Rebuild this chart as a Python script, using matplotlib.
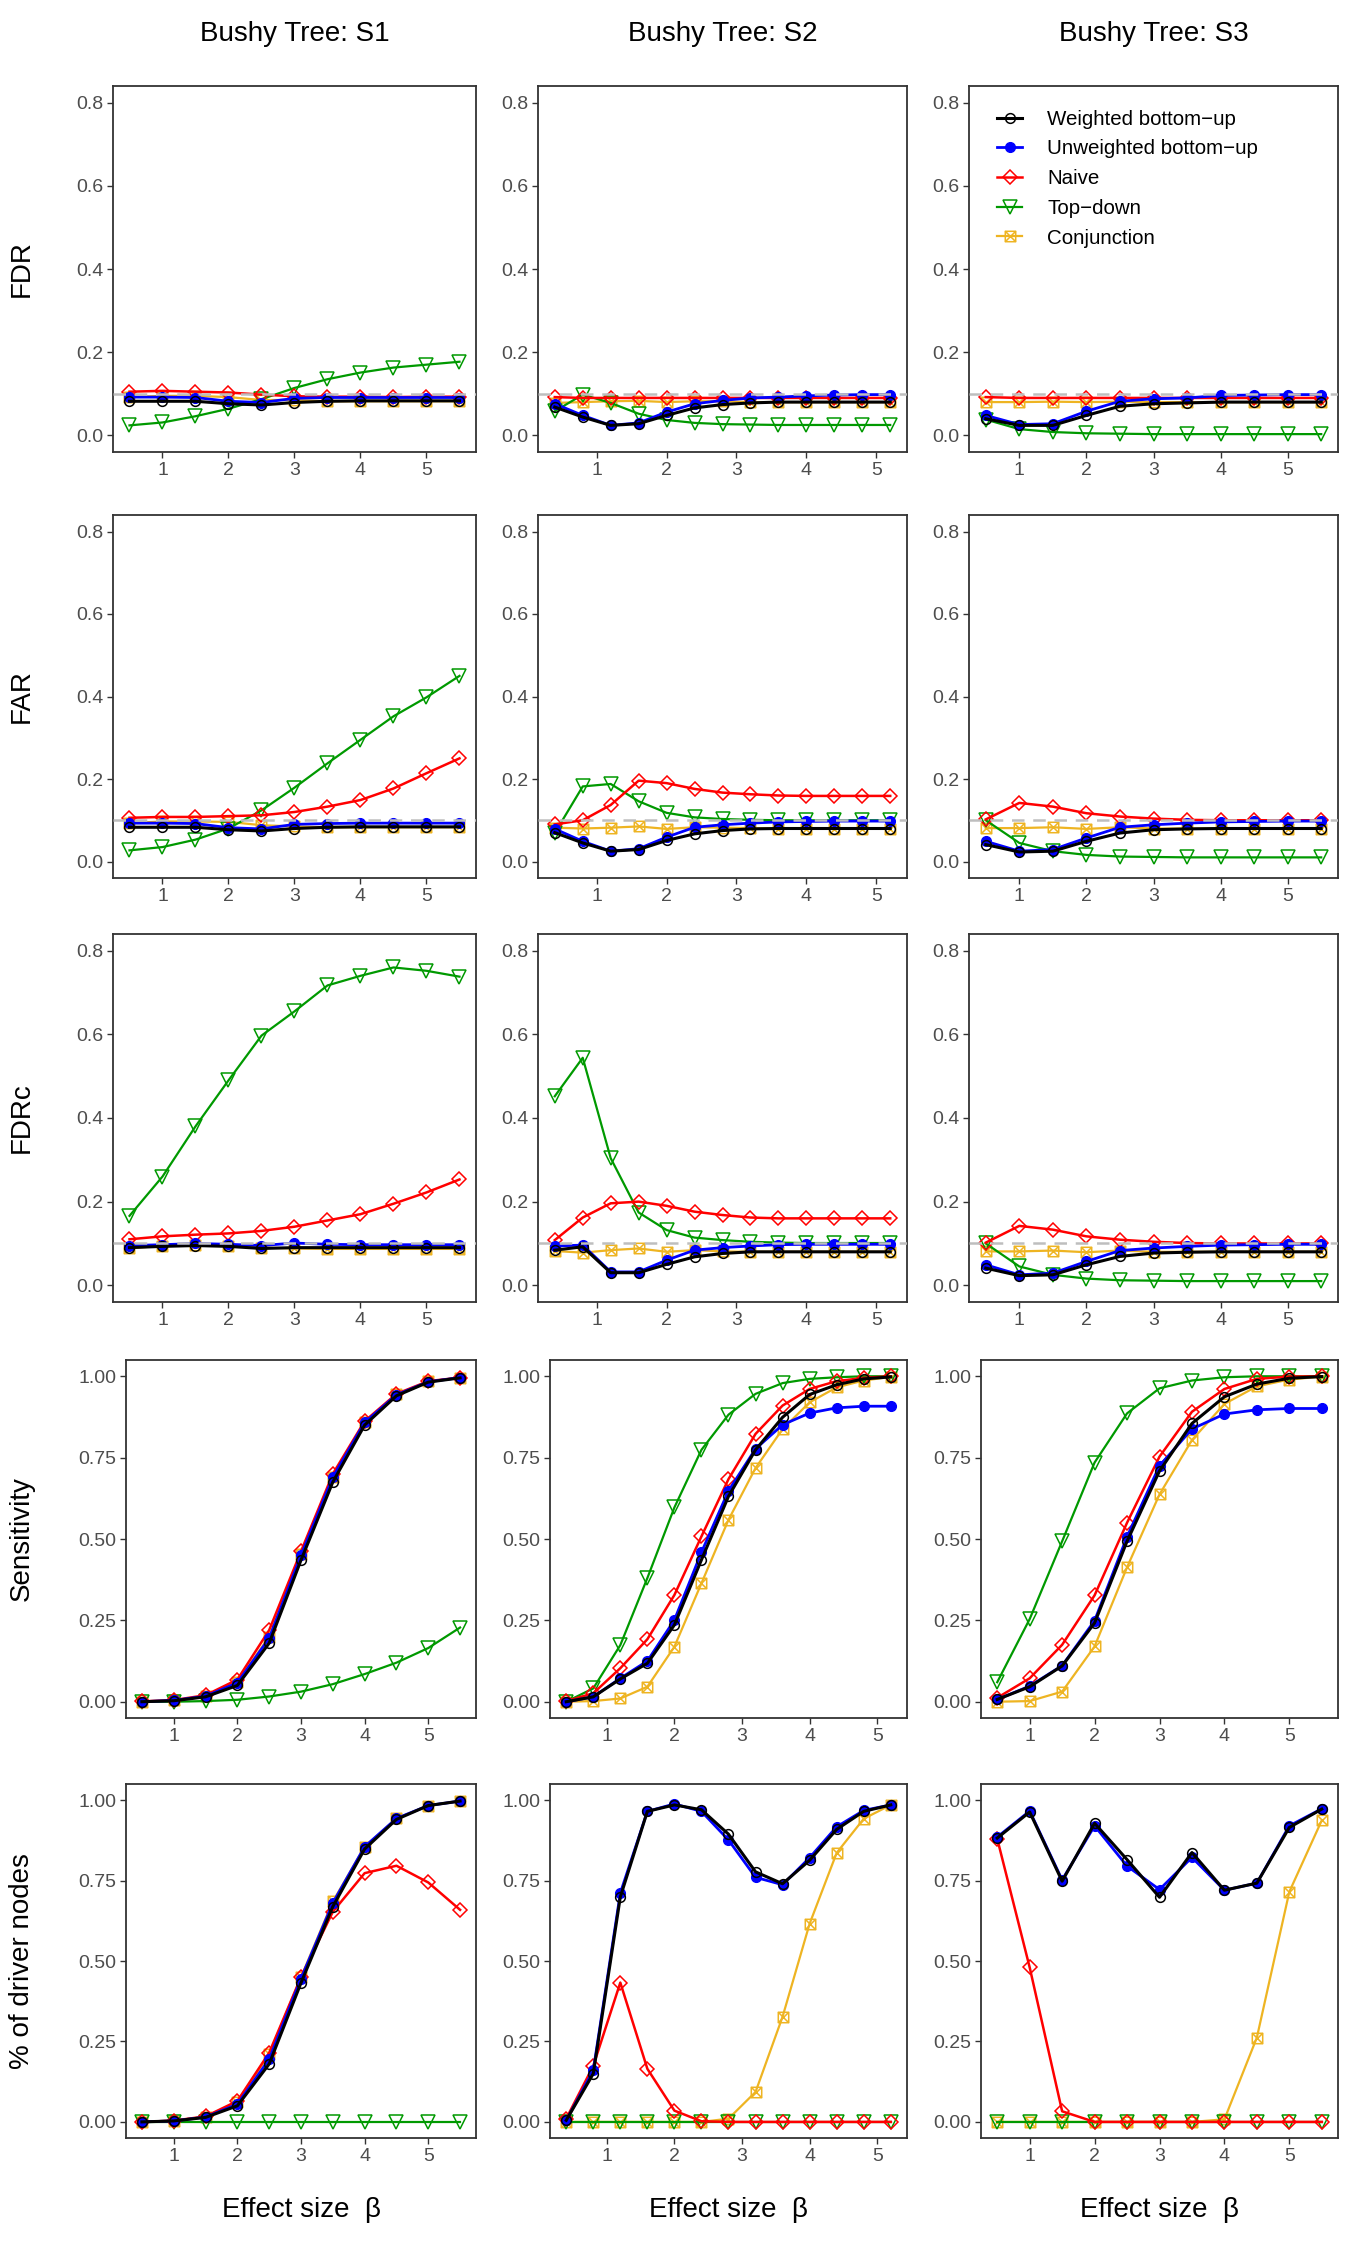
import matplotlib
matplotlib.use("Agg")
import matplotlib.pyplot as plt
from matplotlib.path import Path
from matplotlib.lines import Line2D

plt.rcParams['font.family'] = ['Liberation Sans', 'DejaVu Sans']

# effect sizes
x_s13 = [0.5, 1.0, 1.5, 2.0, 2.5, 3.0, 3.5, 4.0, 4.5, 5.0, 5.5]
x_s2 = [0.4, 0.8, 1.2, 1.6, 2.0, 2.4, 2.8, 3.2, 3.6, 4.0, 4.4, 4.8, 5.2]

scenarios = ["Bushy Tree: S1", "Bushy Tree: S2", "Bushy Tree: S3"]
metrics = ["FDR", "FAR", "FDRc", "Sensitivity", "% of driver nodes"]
methods = ["Weighted bottom\u2212up", "Unweighted bottom\u2212up", "Naive", "Top\u2212down", "Conjunction"]

# ---- FDR ----
fdr_s1_wbu = [0.082, 0.082, 0.082, 0.076, 0.073, 0.079, 0.082, 0.083, 0.083, 0.083, 0.083]
fdr_s1_ubu = [0.092, 0.092, 0.091, 0.082, 0.079, 0.089, 0.091, 0.091, 0.091, 0.091, 0.091]
fdr_s1_naive = [0.105, 0.107, 0.105, 0.103, 0.098, 0.094, 0.093, 0.093, 0.092, 0.093, 0.093]
fdr_s1_td = [0.024, 0.031, 0.046, 0.064, 0.087, 0.114, 0.135, 0.151, 0.163, 0.170, 0.177]
fdr_s1_conj = [0.092, 0.095, 0.095, 0.092, 0.085, 0.085, 0.082, 0.082, 0.082, 0.082, 0.082]

fdr_s2_wbu = [0.068, 0.044, 0.024, 0.028, 0.048, 0.066, 0.074, 0.078, 0.080, 0.080, 0.080, 0.080, 0.080]
fdr_s2_ubu = [0.076, 0.048, 0.024, 0.030, 0.056, 0.076, 0.084, 0.090, 0.092, 0.095, 0.097, 0.098, 0.098]
fdr_s2_naive = [0.092, 0.090, 0.090, 0.090, 0.090, 0.090, 0.090, 0.090, 0.090, 0.090, 0.090, 0.090, 0.090]
fdr_s2_td = [0.058, 0.098, 0.078, 0.052, 0.037, 0.030, 0.027, 0.026, 0.025, 0.025, 0.025, 0.025, 0.025]
fdr_s2_conj = [0.078, 0.080, 0.082, 0.083, 0.080, 0.082, 0.082, 0.080, 0.080, 0.080, 0.080, 0.080, 0.080]

fdr_s3_wbu = [0.040, 0.024, 0.024, 0.048, 0.070, 0.076, 0.078, 0.080, 0.080, 0.080, 0.080]
fdr_s3_ubu = [0.048, 0.026, 0.028, 0.058, 0.082, 0.088, 0.090, 0.096, 0.097, 0.098, 0.098]
fdr_s3_naive = [0.092, 0.090, 0.090, 0.090, 0.090, 0.090, 0.090, 0.090, 0.090, 0.090, 0.090]
fdr_s3_td = [0.038, 0.015, 0.008, 0.005, 0.004, 0.003, 0.003, 0.003, 0.003, 0.003, 0.003]
fdr_s3_conj = [0.080, 0.080, 0.081, 0.080, 0.081, 0.080, 0.080, 0.080, 0.080, 0.080, 0.080]

# ---- FAR ----
far_s1_wbu = [0.083, 0.083, 0.083, 0.077, 0.074, 0.080, 0.083, 0.084, 0.084, 0.084, 0.084]
far_s1_ubu = [0.093, 0.093, 0.092, 0.082, 0.079, 0.090, 0.092, 0.093, 0.093, 0.093, 0.093]
far_s1_naive = [0.106, 0.108, 0.108, 0.110, 0.112, 0.120, 0.133, 0.149, 0.177, 0.214, 0.250]
far_s1_td = [0.027, 0.035, 0.053, 0.080, 0.124, 0.179, 0.238, 0.295, 0.352, 0.398, 0.450]
far_s1_conj = [0.093, 0.097, 0.097, 0.096, 0.088, 0.085, 0.083, 0.083, 0.083, 0.083, 0.083]

far_s2_wbu = [0.070, 0.045, 0.025, 0.029, 0.051, 0.067, 0.075, 0.079, 0.080, 0.080, 0.080, 0.080, 0.080]
far_s2_ubu = [0.079, 0.049, 0.025, 0.031, 0.059, 0.083, 0.089, 0.093, 0.096, 0.097, 0.098, 0.098, 0.098]
far_s2_naive = [0.090, 0.100, 0.137, 0.196, 0.190, 0.176, 0.167, 0.163, 0.160, 0.159, 0.159, 0.159, 0.159]
far_s2_td = [0.069, 0.182, 0.188, 0.146, 0.118, 0.107, 0.103, 0.101, 0.100, 0.100, 0.100, 0.100, 0.100]
far_s2_conj = [0.082, 0.080, 0.082, 0.085, 0.079, 0.083, 0.082, 0.081, 0.080, 0.080, 0.080, 0.080, 0.080]

far_s3_wbu = [0.041, 0.023, 0.025, 0.049, 0.069, 0.077, 0.079, 0.080, 0.080, 0.080, 0.080]
far_s3_ubu = [0.049, 0.025, 0.029, 0.057, 0.083, 0.089, 0.093, 0.096, 0.097, 0.098, 0.098]
far_s3_naive = [0.102, 0.142, 0.133, 0.117, 0.109, 0.104, 0.101, 0.100, 0.100, 0.100, 0.100]
far_s3_td = [0.100, 0.045, 0.025, 0.016, 0.012, 0.011, 0.010, 0.010, 0.010, 0.010, 0.010]
far_s3_conj = [0.081, 0.081, 0.083, 0.079, 0.083, 0.080, 0.080, 0.080, 0.080, 0.080, 0.080]

# ---- FDRc ----
fdrc_s1_wbu = [0.090, 0.093, 0.095, 0.093, 0.088, 0.090, 0.090, 0.090, 0.090, 0.090, 0.090]
fdrc_s1_ubu = [0.095, 0.097, 0.100, 0.098, 0.095, 0.101, 0.098, 0.097, 0.097, 0.097, 0.097]
fdrc_s1_naive = [0.110, 0.117, 0.121, 0.124, 0.130, 0.140, 0.155, 0.170, 0.195, 0.222, 0.253]
fdrc_s1_td = [0.166, 0.260, 0.380, 0.490, 0.597, 0.655, 0.717, 0.740, 0.760, 0.752, 0.738]
fdrc_s1_conj = [0.088, 0.095, 0.097, 0.095, 0.090, 0.088, 0.087, 0.087, 0.087, 0.087, 0.087]

fdrc_s2_wbu = [0.084, 0.092, 0.030, 0.030, 0.050, 0.068, 0.076, 0.080, 0.080, 0.080, 0.080, 0.080, 0.080]
fdrc_s2_ubu = [0.094, 0.096, 0.032, 0.032, 0.060, 0.084, 0.090, 0.094, 0.097, 0.098, 0.098, 0.098, 0.098]
fdrc_s2_naive = [0.108, 0.162, 0.196, 0.200, 0.190, 0.176, 0.168, 0.162, 0.160, 0.160, 0.160, 0.160, 0.160]
fdrc_s2_td = [0.452, 0.544, 0.304, 0.174, 0.132, 0.114, 0.108, 0.104, 0.102, 0.101, 0.101, 0.101, 0.101]
fdrc_s2_conj = [0.082, 0.078, 0.084, 0.088, 0.080, 0.084, 0.081, 0.080, 0.080, 0.080, 0.080, 0.080, 0.080]

fdrc_s3_wbu = [0.041, 0.023, 0.025, 0.049, 0.069, 0.077, 0.079, 0.080, 0.080, 0.080, 0.080]
fdrc_s3_ubu = [0.049, 0.025, 0.029, 0.057, 0.083, 0.089, 0.093, 0.096, 0.097, 0.098, 0.098]
fdrc_s3_naive = [0.102, 0.142, 0.133, 0.117, 0.109, 0.104, 0.101, 0.100, 0.100, 0.100, 0.100]
fdrc_s3_td = [0.100, 0.045, 0.025, 0.016, 0.012, 0.011, 0.010, 0.010, 0.010, 0.010, 0.010]
fdrc_s3_conj = [0.081, 0.081, 0.083, 0.079, 0.083, 0.080, 0.080, 0.080, 0.080, 0.080, 0.080]

# ---- Sensitivity ----
sens_s1_wbu = [0.000, 0.003, 0.015, 0.050, 0.180, 0.435, 0.675, 0.850, 0.940, 0.982, 0.995]
sens_s1_ubu = [0.000, 0.004, 0.017, 0.058, 0.195, 0.450, 0.690, 0.858, 0.943, 0.983, 0.996]
sens_s1_naive = [0.001, 0.005, 0.020, 0.068, 0.220, 0.462, 0.700, 0.862, 0.946, 0.985, 0.996]
sens_s1_td = [0.000, 0.000, 0.002, 0.006, 0.016, 0.031, 0.054, 0.085, 0.120, 0.165, 0.228]
sens_s1_conj = [0.000, 0.004, 0.017, 0.060, 0.200, 0.455, 0.692, 0.858, 0.944, 0.984, 0.996]

sens_s2_wbu = [0.000, 0.015, 0.070, 0.118, 0.236, 0.436, 0.631, 0.774, 0.874, 0.944, 0.974, 0.992, 0.998]
sens_s2_ubu = [0.000, 0.015, 0.072, 0.125, 0.251, 0.459, 0.648, 0.777, 0.851, 0.887, 0.903, 0.908, 0.908]
sens_s2_naive = [0.002, 0.026, 0.103, 0.192, 0.328, 0.508, 0.684, 0.823, 0.910, 0.961, 0.985, 0.995, 1.000]
sens_s2_td = [0.000, 0.041, 0.174, 0.380, 0.597, 0.774, 0.882, 0.946, 0.979, 0.992, 0.997, 1.000, 1.000]
sens_s2_conj = [0.000, 0.002, 0.010, 0.046, 0.169, 0.364, 0.559, 0.718, 0.838, 0.920, 0.966, 0.987, 0.998]

sens_s3_wbu = [0.007, 0.046, 0.110, 0.242, 0.493, 0.709, 0.855, 0.937, 0.976, 0.994, 0.999]
sens_s3_ubu = [0.007, 0.048, 0.111, 0.249, 0.507, 0.725, 0.838, 0.884, 0.897, 0.901, 0.901]
sens_s3_naive = [0.012, 0.072, 0.175, 0.327, 0.550, 0.753, 0.891, 0.961, 0.992, 0.999, 1.000]
sens_s3_td = [0.060, 0.254, 0.493, 0.735, 0.886, 0.963, 0.987, 0.997, 1.000, 1.000, 1.000]
sens_s3_conj = [0.000, 0.002, 0.031, 0.170, 0.413, 0.637, 0.804, 0.915, 0.969, 0.990, 0.999]

# ---- % of driver nodes ----
drv_s1_wbu = [0.000, 0.003, 0.014, 0.050, 0.180, 0.432, 0.669, 0.848, 0.940, 0.983, 0.997]
drv_s1_ubu = [0.000, 0.003, 0.015, 0.055, 0.195, 0.445, 0.680, 0.855, 0.943, 0.983, 0.997]
drv_s1_naive = [0.000, 0.004, 0.017, 0.065, 0.215, 0.450, 0.653, 0.773, 0.796, 0.744, 0.659]
drv_s1_td = [0.0, 0.0, 0.0, 0.0, 0.0, 0.0, 0.0, 0.0, 0.0, 0.0, 0.0]
drv_s1_conj = [0.000, 0.004, 0.016, 0.062, 0.210, 0.450, 0.685, 0.855, 0.943, 0.983, 0.997]

drv_s2_wbu = [0.005, 0.150, 0.699, 0.965, 0.985, 0.970, 0.894, 0.777, 0.740, 0.813, 0.909, 0.965, 0.985]
drv_s2_ubu = [0.005, 0.160, 0.711, 0.965, 0.988, 0.965, 0.876, 0.760, 0.737, 0.821, 0.917, 0.968, 0.985]
drv_s2_naive = [0.010, 0.174, 0.433, 0.165, 0.035, 0.002, 0.0, 0.0, 0.0, 0.0, 0.0, 0.0, 0.0]
drv_s2_td = [0.0, 0.0, 0.0, 0.0, 0.0, 0.0, 0.0, 0.0, 0.0, 0.0, 0.0, 0.0, 0.0]
drv_s2_conj = [0.0, 0.0, 0.0, 0.0, 0.0, 0.0, 0.010, 0.093, 0.327, 0.616, 0.836, 0.942, 0.985]

drv_s3_wbu = [0.882, 0.963, 0.748, 0.928, 0.815, 0.698, 0.837, 0.720, 0.742, 0.915, 0.972]
drv_s3_ubu = [0.885, 0.966, 0.752, 0.920, 0.795, 0.722, 0.822, 0.720, 0.742, 0.920, 0.973]
drv_s3_naive = [0.880, 0.480, 0.033, 0.0, 0.0, 0.0, 0.0, 0.0, 0.0, 0.0, 0.0]
drv_s3_td = [0.0, 0.0, 0.0, 0.0, 0.0, 0.0, 0.0, 0.0, 0.0, 0.0, 0.0]
drv_s3_conj = [0.0, 0.0, 0.0, 0.0, 0.0, 0.0, 0.0, 0.008, 0.262, 0.715, 0.937]

# table of panels: rows = metrics, cols = scenarios
panels = [
    [[fdr_s1_wbu, fdr_s1_ubu, fdr_s1_naive, fdr_s1_td, fdr_s1_conj],
     [fdr_s2_wbu, fdr_s2_ubu, fdr_s2_naive, fdr_s2_td, fdr_s2_conj],
     [fdr_s3_wbu, fdr_s3_ubu, fdr_s3_naive, fdr_s3_td, fdr_s3_conj]],
    [[far_s1_wbu, far_s1_ubu, far_s1_naive, far_s1_td, far_s1_conj],
     [far_s2_wbu, far_s2_ubu, far_s2_naive, far_s2_td, far_s2_conj],
     [far_s3_wbu, far_s3_ubu, far_s3_naive, far_s3_td, far_s3_conj]],
    [[fdrc_s1_wbu, fdrc_s1_ubu, fdrc_s1_naive, fdrc_s1_td, fdrc_s1_conj],
     [fdrc_s2_wbu, fdrc_s2_ubu, fdrc_s2_naive, fdrc_s2_td, fdrc_s2_conj],
     [fdrc_s3_wbu, fdrc_s3_ubu, fdrc_s3_naive, fdrc_s3_td, fdrc_s3_conj]],
    [[sens_s1_wbu, sens_s1_ubu, sens_s1_naive, sens_s1_td, sens_s1_conj],
     [sens_s2_wbu, sens_s2_ubu, sens_s2_naive, sens_s2_td, sens_s2_conj],
     [sens_s3_wbu, sens_s3_ubu, sens_s3_naive, sens_s3_td, sens_s3_conj]],
    [[drv_s1_wbu, drv_s1_ubu, drv_s1_naive, drv_s1_td, drv_s1_conj],
     [drv_s2_wbu, drv_s2_ubu, drv_s2_naive, drv_s2_td, drv_s2_conj],
     [drv_s3_wbu, drv_s3_ubu, drv_s3_naive, drv_s3_td, drv_s3_conj]],
]
xs = [x_s13, x_s2, x_s13]

# square with a cross (ggplot shape 7)
box_x = Path([(-1, -1), (1, -1), (1, 1), (-1, 1), (-1, -1), (-1, -1), (1, 1), (-1, 1), (1, -1)],
             [Path.MOVETO, Path.LINETO, Path.LINETO, Path.LINETO, Path.CLOSEPOLY,
              Path.MOVETO, Path.LINETO, Path.MOVETO, Path.LINETO])

styles = [
    dict(color='black', lw=2.2, marker='o', ms=7, mfc='none', mew=1.1, zorder=2.5),
    dict(color='#0000FF', lw=2.0, marker='o', ms=7, mfc='#0000FF', mew=1.0, zorder=2.4),
    dict(color='#FF0000', lw=1.8, marker='D', ms=7, mfc='none', mew=1.1, zorder=2.3),
    dict(color='#009900', lw=1.6, marker='v', ms=10, mfc='none', mew=1.1, zorder=2.2),
    dict(color='#EEB422', lw=1.6, marker=box_x, ms=7.5, mfc='none', mew=1.1, zorder=2.1),
]

W, H = 1350, 2250
fig = plt.figure(figsize=(W / 100, H / 100), dpi=100)

col_left = [[113, 538, 969], [113, 538, 969], [113, 538, 969], [126, 550, 981], [126, 550, 981]]
col_right = [476, 907, 1338]
row_top = [86, 515, 934, 1360, 1784]
row_bot = [452, 878, 1302, 1718, 2138]

def rect(l, r, t, b):
    return [l / W, 1 - b / H, (r - l) / W, (b - t) / H]

for i in range(5):
    for j in range(3):
        ax = fig.add_axes(rect(col_left[i][j], col_right[j], row_top[i], row_bot[i]))
        x = xs[j]
        for k, ser in enumerate(panels[i][j]):
            ax.plot(x, ser, **styles[k])
        if i < 3:
            ax.axhline(0.1, color='#BEBEBE', lw=1.8, dashes=(5, 3.5), zorder=3)
            ax.set_ylim(-0.04, 0.84)
            ax.set_yticks([0.0, 0.2, 0.4, 0.6, 0.8])
            ax.set_yticklabels(["0.0", "0.2", "0.4", "0.6", "0.8"])
        else:
            ax.set_ylim(-0.05, 1.05)
            ax.set_yticks([0.0, 0.25, 0.5, 0.75, 1.0])
            ax.set_yticklabels(["0.00", "0.25", "0.50", "0.75", "1.00"])
        pad = 0.05 * (x[-1] - x[0])
        ax.set_xlim(x[0] - pad, x[-1] + pad)
        ax.set_xticks([1, 2, 3, 4, 5])
        ax.tick_params(direction='out', length=4, width=1.0, color='#333333',
                       labelsize=14, labelcolor='#4D4D4D', pad=3)
        for s in ax.spines.values():
            s.set_color('#333333')
            s.set_linewidth(1.3)
        if i == 0 and j == 2:
            handles = [Line2D([], [], **{k: v for k, v in st.items() if k != 'zorder'}) for st in styles]
            ax.legend(handles, methods, loc='upper left', bbox_to_anchor=(0.075, 0.935),
                      frameon=False, fontsize=14.8, handlelength=1.25, handletextpad=1.2,
                      labelspacing=0.52, borderpad=0, borderaxespad=0)

# column titles
for j in range(3):
    cx = (col_left[0][j] + col_right[j]) / 2
    fig.text(cx / W, 1 - 34 / H, scenarios[j], ha='center', va='center', fontsize=20)
    cx5 = (col_left[4][j] + col_right[j]) / 2
    fig.text(cx5 / W, 1 - 2210 / H, "Effect size  \u03b2", ha='center', va='center', fontsize=20)

# row labels
for i in range(5):
    cy = (row_top[i] + row_bot[i]) / 2
    fig.text(22 / W, 1 - cy / H, metrics[i], rotation=90, ha='center', va='center', fontsize=20)

fig.savefig("out.png", dpi=100, facecolor='white')
